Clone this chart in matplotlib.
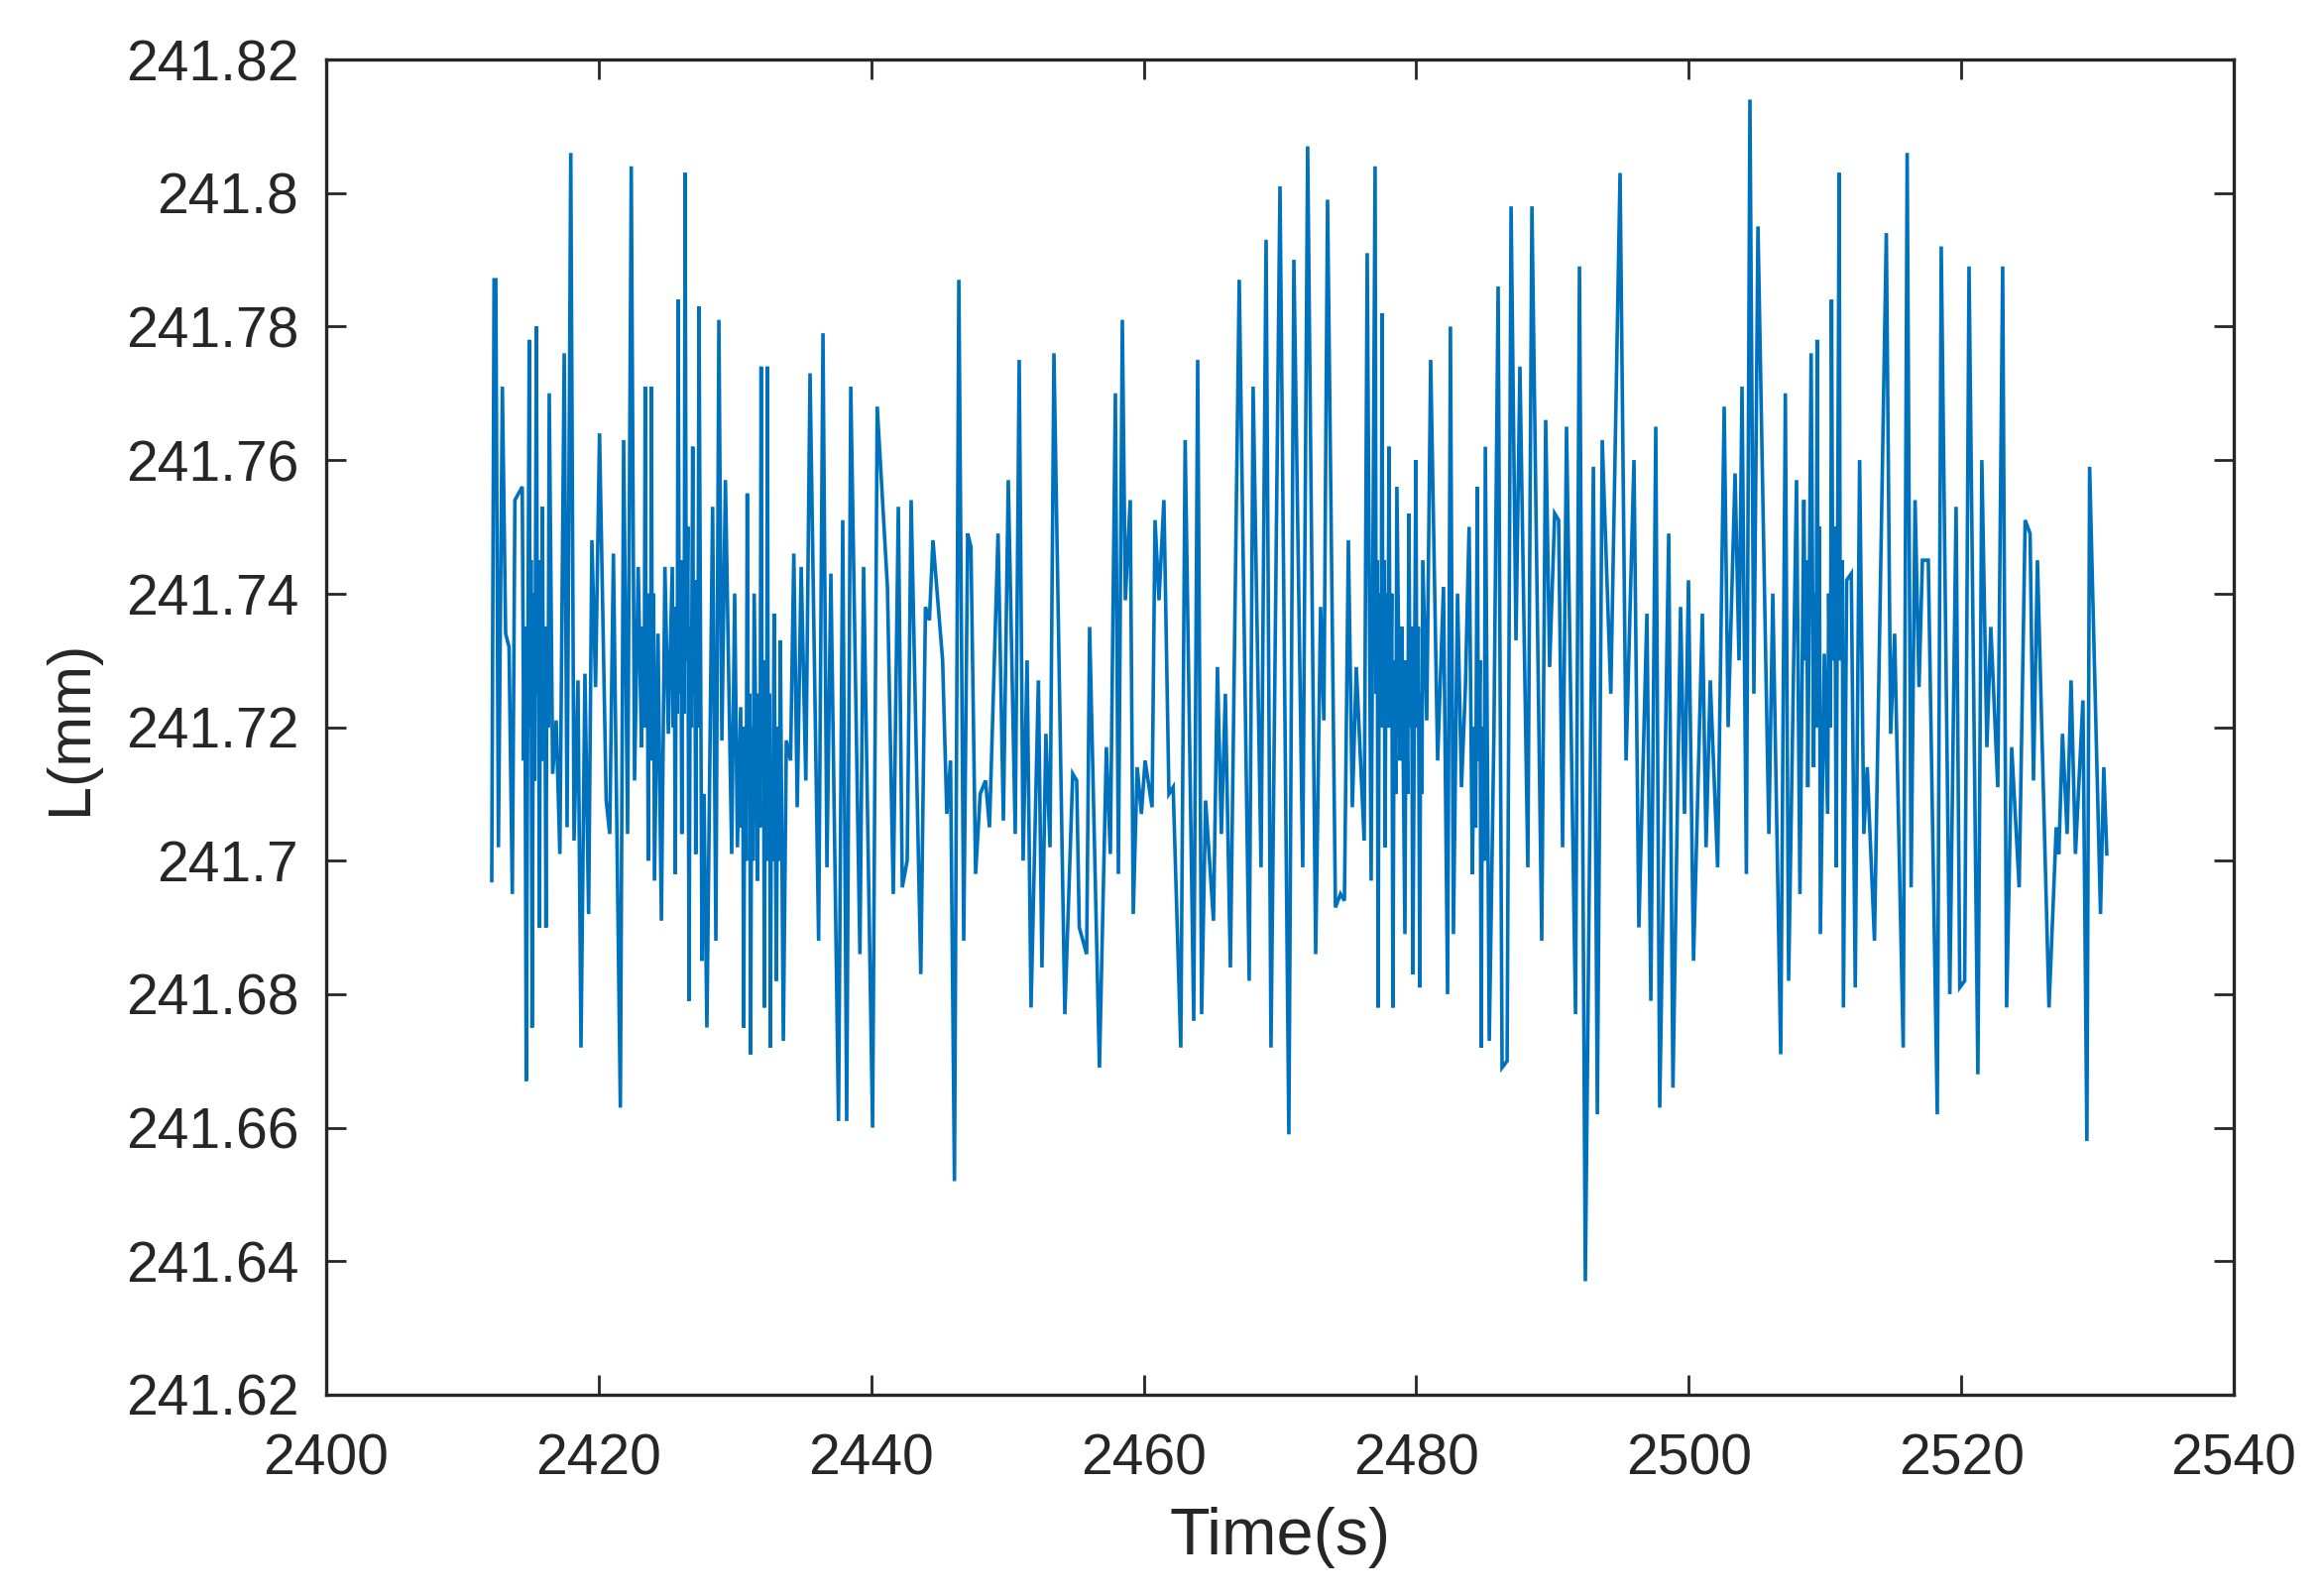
import matplotlib
matplotlib.use('Agg')
import matplotlib.pyplot as plt

# values (peaks and troughs of the trace)
time_a = [2412.15, 2412.32, 2412.45, 2412.64, 2412.93, 2413.17, 2413.42, 2413.66, 2413.85, 2414.39, 2414.68, 2414.90,
          2415.11, 2415.43, 2415.65, 2415.87, 2416.13, 2416.37, 2416.62, 2416.88, 2417.15, 2417.47, 2417.68, 2417.95,
          2418.19, 2418.48, 2418.70, 2418.99, 2419.26, 2419.50, 2419.77, 2420.06, 2420.55, 2420.81, 2421.08, 2421.59,
          2421.83, 2422.12, 2422.39, 2422.63, 2422.90, 2423.14, 2423.41, 2423.63, 2423.87, 2424.09, 2424.35, 2424.60,
          2424.86, 2425.11, 2425.40, 2425.62, 2425.83, 2426.10, 2426.34, 2426.63, 2426.90, 2427.12, 2427.36, 2427.58,
          2427.73, 2427.94, 2428.36, 2428.60, 2428.82, 2429.04, 2429.30, 2429.76, 2429.98, 2430.18, 2430.42, 2430.64,
          2430.90, 2431.15, 2431.41, 2431.66, 2431.92, 2432.16, 2432.38, 2432.60, 2432.87, 2433.04, 2433.33, 2433.55,
          2433.77, 2434.08, 2434.32, 2434.57, 2434.86, 2435.20, 2435.51, 2436.14, 2436.46, 2436.75, 2437.04, 2437.60,
          2437.91, 2438.20, 2438.50, 2439.17, 2439.44, 2440.10, 2440.44, 2441.19, 2441.62, 2441.99, 2442.28, 2442.64,
          2442.93, 2443.64, 2443.98, 2444.27, 2444.53, 2445.24, 2445.55, 2445.82, 2446.11, 2446.43, 2446.79]
length_a = [241.697, 241.787, 241.787, 241.702, 241.771, 241.734, 241.732, 241.695, 241.754, 241.756, 241.667, 241.778,
            241.675, 241.780, 241.690, 241.753, 241.690, 241.770, 241.713, 241.721, 241.701, 241.776, 241.705, 241.806,
            241.703, 241.727, 241.672, 241.728, 241.692, 241.748, 241.726, 241.764, 241.709, 241.704, 241.746, 241.663,
            241.763, 241.704, 241.804, 241.712, 241.744, 241.717, 241.771, 241.700, 241.771, 241.697, 241.734, 241.691,
            241.744, 241.719, 241.744, 241.698, 241.784, 241.704, 241.803, 241.679, 241.762, 241.701, 241.783, 241.685,
            241.710, 241.675, 241.753, 241.688, 241.781, 241.718, 241.757, 241.701, 241.740, 241.702, 241.723, 241.675,
            241.755, 241.671, 241.740, 241.697, 241.774, 241.678, 241.774, 241.672, 241.737, 241.682, 241.733, 241.673,
            241.718, 241.715, 241.746, 241.708, 241.744, 241.712, 241.773, 241.688, 241.779, 241.699, 241.743, 241.661,
            241.751, 241.661, 241.771, 241.686, 241.744, 241.660, 241.768, 241.741, 241.695, 241.753, 241.696, 241.700,
            241.754, 241.683, 241.738, 241.736, 241.748, 241.730, 241.707, 241.715, 241.652, 241.787, 241.688]

time_b = [2447.08, 2447.32, 2447.66, 2448.00, 2448.39, 2448.68, 2449.31, 2449.70, 2450.06, 2450.57, 2450.86, 2451.15,
          2451.44, 2451.73, 2452.27, 2452.53, 2452.82, 2453.12, 2453.41, 2454.21, 2454.79, 2455.08, 2455.27, 2455.81,
          2456.03, 2456.75, 2457.26, 2457.55, 2457.92, 2458.14, 2458.43, 2458.65, 2459.01, 2459.23, 2459.52, 2459.83,
          2460.10, 2460.61, 2460.83, 2461.12, 2461.48, 2461.85, 2462.16, 2462.72, 2463.04, 2463.67, 2463.96, 2464.25,
          2464.54, 2465.12, 2465.41, 2465.70, 2465.99, 2466.36, 2467.01, 2467.74, 2468.03, 2468.61, 2468.98, 2469.34,
          2470.00, 2470.65, 2471.02, 2471.67, 2472.03, 2472.62, 2472.98, 2473.22, 2473.49, 2474.07, 2474.44, 2474.73,
          2475.02, 2475.31, 2475.60, 2476.18, 2476.40, 2476.69, 2476.98, 2477.20, 2477.49, 2477.71, 2478.00, 2478.29,
          2478.58, 2479.17, 2479.46, 2479.75, 2479.97, 2480.26, 2480.48, 2480.77, 2481.06, 2481.57, 2482.00, 2482.30,
          2482.51, 2482.73]
length_b = [241.749, 241.747, 241.698, 241.710, 241.712, 241.705, 241.749, 241.706, 241.757, 241.704, 241.775, 241.700,
            241.730, 241.678, 241.727, 241.684, 241.719, 241.702, 241.776, 241.677, 241.713, 241.712, 241.690, 241.686,
            241.735, 241.669, 241.717, 241.701, 241.770, 241.698, 241.781, 241.739, 241.754, 241.692, 241.714, 241.707,
            241.715, 241.708, 241.751, 241.739, 241.754, 241.710, 241.711, 241.672, 241.763, 241.676, 241.775, 241.677,
            241.709, 241.691, 241.729, 241.704, 241.725, 241.684, 241.787, 241.682, 241.771, 241.699, 241.793, 241.672,
            241.801, 241.659, 241.790, 241.699, 241.807, 241.686, 241.738, 241.721, 241.799, 241.693, 241.695, 241.694,
            241.748, 241.708, 241.729, 241.703, 241.791, 241.697, 241.804, 241.678, 241.782, 241.702, 241.762, 241.678,
            241.756, 241.689, 241.752, 241.683, 241.760, 241.681, 241.745, 241.721, 241.775, 241.715, 241.741, 241.680,
            241.780, 241.689]

time_c = [2483.03, 2483.32, 2483.61, 2483.88, 2484.12, 2484.48, 2484.77, 2485.07, 2485.36, 2485.70, 2486.01, 2486.30,
          2486.67, 2486.96, 2487.32, 2487.61, 2488.19, 2488.49, 2489.21, 2489.50, 2489.79, 2490.16, 2490.45, 2490.74,
          2491.03, 2491.69, 2491.98, 2492.41, 2493.00, 2493.29, 2493.65, 2494.28, 2494.96, 2495.40, 2495.98, 2496.34,
          2496.93, 2497.22, 2497.58, 2497.87, 2498.53, 2498.84, 2499.40, 2499.69, 2499.98, 2500.35, 2501.00, 2501.27,
          2501.58, 2502.12, 2502.60, 2502.89, 2503.40, 2503.69, 2503.91, 2504.23, 2504.49, 2504.78, 2505.08, 2505.88,
          2506.17, 2506.75, 2507.09, 2507.33, 2507.91, 2508.16, 2508.45, 2508.74, 2508.98, 2509.17, 2509.42, 2509.66,
          2509.95, 2510.19, 2510.48, 2510.82, 2511.04]
length_c = [241.740, 241.711, 241.726, 241.750, 241.698, 241.756, 241.672, 241.762, 241.673, 241.719, 241.786, 241.669,
            241.670, 241.798, 241.733, 241.774, 241.699, 241.798, 241.688, 241.766, 241.729, 241.752, 241.751, 241.702,
            241.765, 241.677, 241.789, 241.637, 241.759, 241.662, 241.763, 241.725, 241.803, 241.715, 241.760, 241.690,
            241.737, 241.679, 241.765, 241.663, 241.749, 241.666, 241.738, 241.707, 241.742, 241.685, 241.737, 241.702,
            241.727, 241.699, 241.768, 241.720, 241.758, 241.730, 241.771, 241.698, 241.814, 241.725, 241.795, 241.704,
            241.740, 241.671, 241.770, 241.682, 241.757, 241.695, 241.754, 241.711, 241.776, 241.714, 241.778, 241.689,
            241.731, 241.707, 241.784, 241.699, 241.803]

time_d = [2511.35, 2511.59, 2511.93, 2512.22, 2512.54, 2512.85, 2513.10, 2513.63, 2514.50, 2514.82, 2515.11, 2515.74,
          2516.03, 2516.32, 2516.61, 2516.90, 2517.15, 2517.58, 2518.24, 2518.53, 2519.16, 2519.62, 2519.89, 2520.25,
          2520.57, 2521.22, 2521.51, 2521.88, 2522.17, 2522.68, 2523.04, 2523.33, 2523.70, 2524.25, 2524.69, 2525.05,
          2525.30, 2525.59, 2526.44, 2526.97, 2527.16, 2527.43, 2527.77, 2528.06, 2528.38, 2528.93, 2529.22, 2529.42,
          2530.22, 2530.46, 2530.68]
length_d = [241.678, 241.742, 241.743, 241.681, 241.760, 241.704, 241.714, 241.688, 241.794, 241.719, 241.734, 241.672,
            241.806, 241.696, 241.754, 241.726, 241.745, 241.745, 241.662, 241.792, 241.680, 241.753, 241.681, 241.682,
            241.789, 241.668, 241.760, 241.717, 241.735, 241.711, 241.789, 241.678, 241.717, 241.696, 241.751, 241.749,
            241.712, 241.745, 241.678, 241.705, 241.701, 241.719, 241.704, 241.727, 241.701, 241.724, 241.658, 241.759,
            241.692, 241.714, 241.701]

# smaller swings inside the dark, dense stretches of the trace
time_extra = [2414.50, 2414.58, 2414.97, 2415.03, 2415.22, 2415.30, 2415.50, 2415.57, 2415.72, 2415.79, 2415.95, 2416.04,
              2416.20, 2416.29, 2423.22, 2423.34, 2423.47, 2423.57, 2423.70, 2423.80, 2423.93, 2424.03, 2425.47, 2425.54,
              2425.68, 2425.76, 2425.92, 2426.02, 2426.16, 2426.27, 2426.43, 2426.54, 2426.72, 2426.80, 2426.96, 2427.05,
              2427.19, 2427.28, 2430.49, 2430.57, 2430.72, 2430.82, 2430.98, 2431.08, 2431.23, 2431.33, 2431.74, 2431.84,
              2431.99, 2432.09, 2432.22, 2432.32, 2432.44, 2432.54, 2432.68, 2432.78, 2433.13, 2433.25, 2477.06, 2477.14,
              2477.29, 2477.42, 2477.55, 2477.65, 2477.80, 2477.92, 2478.09, 2478.20, 2478.38, 2478.50, 2478.80, 2478.95,
              2479.25, 2479.37, 2479.55, 2479.66, 2480.05, 2480.15, 2480.32, 2480.42, 2484.24, 2484.36, 2484.56, 2484.68,
              2484.85, 2484.99, 2508.55, 2508.66, 2509.25, 2509.35, 2509.50, 2509.59, 2510.27, 2510.40, 2510.58, 2510.72,
              2511.12, 2511.27]
length_extra = [241.715, 241.735, 241.720, 241.745, 241.740, 241.712, 241.725, 241.745, 241.735, 241.715, 241.715, 241.735,
                241.735, 241.720, 241.735, 241.720, 241.725, 241.740, 241.735, 241.715, 241.720, 241.740, 241.720, 241.738,
                241.735, 241.722, 241.725, 241.745, 241.740, 241.722, 241.730, 241.750, 241.735, 241.720, 241.725, 241.742,
                241.740, 241.720, 241.705, 241.720, 241.720, 241.700, 241.710, 241.725, 241.720, 241.700, 241.725, 241.705,
                241.715, 241.730, 241.720, 241.700, 241.710, 241.725, 241.715, 241.700, 241.720, 241.700, 241.725, 241.745,
                241.740, 241.720, 241.725, 241.745, 241.740, 241.720, 241.720, 241.740, 241.730, 241.710, 241.715, 241.735,
                241.730, 241.710, 241.720, 241.735, 241.720, 241.735, 241.725, 241.710, 241.720, 241.705, 241.715, 241.730,
                241.720, 241.700, 241.730, 241.745, 241.740, 241.720, 241.730, 241.750, 241.740, 241.720, 241.730, 241.750,
                241.730, 241.745]

x_ticks = [2400, 2420, 2440, 2460, 2480, 2500, 2520, 2540]
y_ticks = [241.62, 241.64, 241.66, 241.68, 241.7, 241.72, 241.74, 241.76, 241.78, 241.8, 241.82]
y_labels = ['241.62', '241.64', '241.66', '241.68', '241.7', '241.72', '241.74', '241.76', '241.78', '241.8', '241.82']

plt.rcParams['font.family'] = ['Liberation Sans', 'DejaVu Sans']
dark = '#262626'

all_time = time_a + time_b + time_c + time_d + time_extra
all_length = length_a + length_b + length_c + length_d + length_extra
points = sorted(zip(all_time, all_length))

fig = plt.figure(figsize=(23.44, 16.09), dpi=100)
ax = fig.add_axes([329 / 2344, 202 / 1609, 1924 / 2344, 1347 / 1609])

ax.plot([p[0] for p in points], [p[1] for p in points], color='#0072BD', linewidth=2.6, solid_joinstyle='miter')

ax.set_xlim(2400, 2540)
ax.set_ylim(241.62, 241.82)
ax.set_xticks(x_ticks)
ax.set_yticks(y_ticks)
ax.set_yticklabels(y_labels)
ax.tick_params(direction='in', top=True, right=True, length=14.6, width=2, labelsize=41, colors=dark)
ax.tick_params(axis='x', pad=28)
ax.tick_params(axis='y', pad=20)
for s in ax.spines.values():
    s.set_linewidth(2.4)
    s.set_color(dark)

ax.set_xlabel('Time(s)', fontsize=48, color=dark)
ax.set_ylabel('L(mm)', fontsize=44, color=dark)
ax.xaxis.set_label_coords(0.5, -0.084)
ax.yaxis.set_label_coords(-0.119, 0.5)

fig.savefig('out.png', dpi=100)
